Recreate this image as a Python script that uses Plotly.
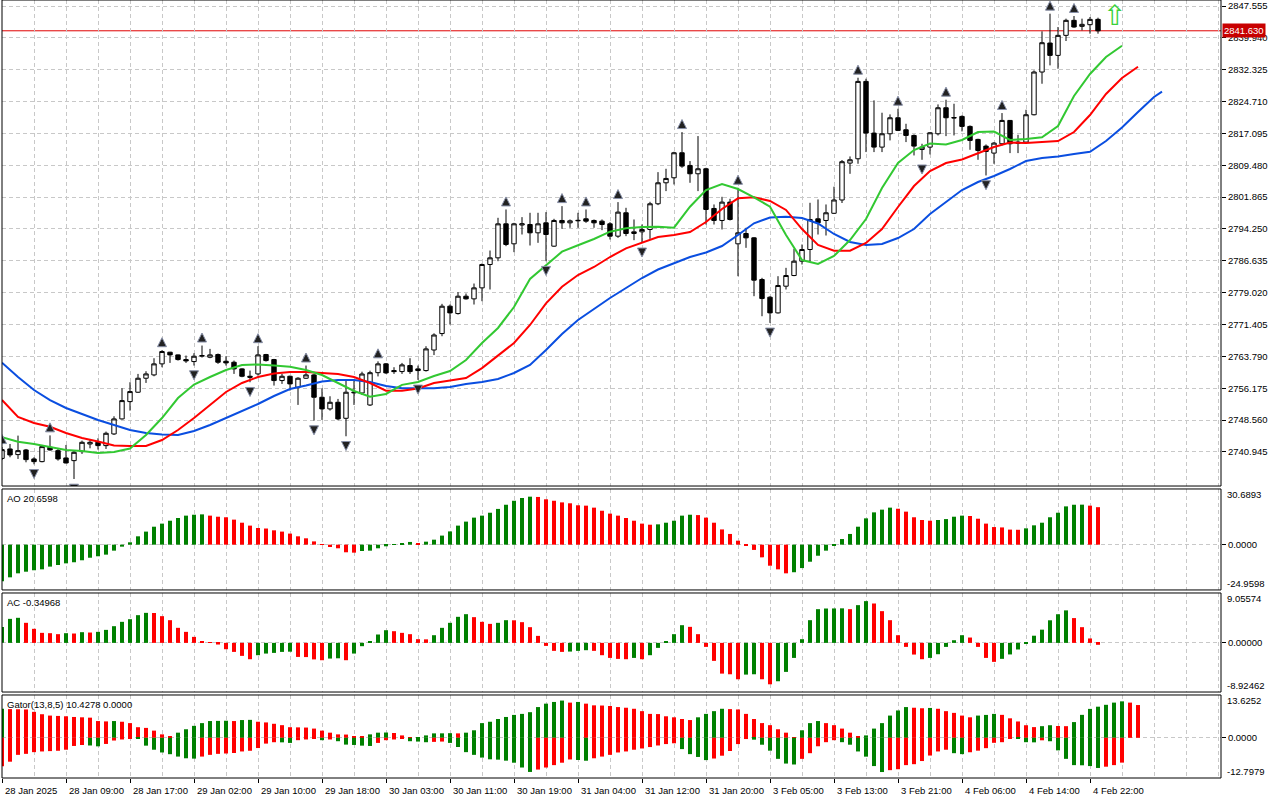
import plotly.graph_objects as go

# time axis: label every 8th bar (H1 bars, 28 Jan 01:00 .. 4 Feb 23:00)
time_ticks = [0, 8, 16, 24, 32, 40, 48, 56, 64, 72, 80, 88, 96, 104, 112, 120, 128, 136]
time_labels = ["28 Jan 2025", "28 Jan 09:00", "28 Jan 17:00", "29 Jan 02:00", "29 Jan 10:00",
               "29 Jan 18:00", "30 Jan 03:00", "30 Jan 11:00", "30 Jan 19:00", "31 Jan 04:00",
               "31 Jan 12:00", "31 Jan 20:00", "3 Feb 05:00", "3 Feb 13:00", "3 Feb 21:00",
               "4 Feb 06:00", "4 Feb 14:00", "4 Feb 22:00"]

price_ticks = [2740.945, 2748.560, 2756.175, 2763.790, 2771.405, 2779.020, 2786.635, 2794.250,
               2801.865, 2809.480, 2817.095, 2824.710, 2832.325, 2839.940, 2847.555]

opens = [
    2739.40, 2741.66, 2740.31, 2741.42, 2739.27, 2738.63, 2742.06, 2741.26, 2739.51, 2738.87,
    2741.02, 2742.85, 2743.25, 2742.46, 2745.25, 2748.84, 2752.98, 2755.22, 2758.57, 2759.36,
    2762.00, 2764.79, 2764.15, 2763.03, 2762.55, 2763.83, 2763.59, 2764.23, 2762.63, 2762.39,
    2760.80, 2759.04, 2759.60, 2764.23, 2763.03, 2758.01, 2759.04, 2756.41, 2758.57, 2759.36,
    2754.02, 2751.23, 2752.82, 2748.99, 2755.06, 2755.04, 2752.17, 2759.90, 2762.00, 2760.40,
    2760.16, 2761.60, 2760.80, 2760.40, 2765.32, 2769.25, 2775.79, 2774.03, 2778.18, 2777.54,
    2780.17, 2785.76, 2787.35, 2795.48, 2790.70, 2795.20, 2795.32, 2793.33, 2795.72, 2790.14,
    2796.28, 2795.72, 2796.20, 2796.68, 2796.28, 2796.12, 2795.48, 2792.53, 2798.12, 2793.17,
    2793.57, 2794.13, 2800.27, 2805.29, 2806.49, 2812.47, 2809.44, 2807.45, 2808.64, 2799.15,
    2796.28, 2800.67, 2790.70, 2793.17, 2792.13, 2782.17, 2777.94, 2774.19, 2780.57, 2783.12,
    2786.55, 2789.34, 2796.68, 2796.28, 2798.00, 2801.18, 2810.00, 2811.03, 2829.53, 2817.17,
    2813.82, 2817.01, 2820.84, 2817.97, 2816.61, 2813.26, 2813.82, 2817.01, 2823.23, 2820.90,
    2821.16, 2818.77, 2815.66, 2814.06, 2812.39, 2814.62, 2820.20, 2815.02, 2815.02, 2821.56,
    2831.77, 2838.70, 2835.75, 2840.54, 2844.13, 2842.69, 2843.09, 2844.36]
highs = [
    2742.10, 2742.85, 2744.85, 2741.66, 2739.67, 2742.62, 2744.90, 2741.66, 2742.62, 2741.26,
    2743.65, 2744.05, 2744.21, 2745.81, 2749.47, 2756.17, 2757.61, 2759.60, 2760.24, 2763.35,
    2765.26, 2764.87, 2764.23, 2763.99, 2764.55, 2766.38, 2765.58, 2764.47, 2763.83, 2762.79,
    2760.96, 2760.40, 2766.22, 2764.39, 2763.19, 2759.60, 2759.20, 2758.81, 2761.60, 2759.60,
    2756.17, 2754.26, 2753.62, 2758.01, 2758.01, 2760.13, 2760.37, 2762.60, 2762.20, 2761.20,
    2762.23, 2763.35, 2761.60, 2766.22, 2769.31, 2776.35, 2776.19, 2779.14, 2778.82, 2781.21,
    2786.00, 2789.10, 2796.92, 2798.91, 2795.72, 2797.08, 2798.12, 2798.12, 2798.28, 2796.68,
    2799.71, 2796.52, 2798.12, 2798.91, 2796.52, 2796.52, 2795.88, 2800.67, 2799.31, 2796.52,
    2795.32, 2800.75, 2807.84, 2808.64, 2812.71, 2817.41, 2810.48, 2816.46, 2808.88, 2800.11,
    2801.94, 2801.47, 2804.09, 2794.53, 2792.29, 2782.57, 2778.18, 2782.96, 2784.96, 2789.50,
    2790.54, 2800.51, 2801.31, 2800.11, 2804.36, 2810.74, 2811.59, 2830.41, 2830.17, 2824.99,
    2822.04, 2821.64, 2822.99, 2819.40, 2816.85, 2814.62, 2817.41, 2824.03, 2825.15, 2824.19,
    2821.40, 2819.00, 2815.82, 2814.46, 2815.02, 2821.96, 2820.30, 2816.77, 2822.75, 2832.16,
    2841.49, 2845.72, 2842.53, 2844.53, 2845.16, 2844.53, 2844.92, 2844.76]
lows = [
    2739.00, 2739.67, 2739.27, 2738.47, 2737.99, 2738.47, 2741.26, 2738.87, 2738.23, 2734.48,
    2740.47, 2741.82, 2741.50, 2741.66, 2745.01, 2748.68, 2750.83, 2755.06, 2757.45, 2759.04,
    2761.20, 2762.23, 2762.79, 2762.23, 2761.60, 2763.51, 2763.35, 2762.00, 2761.60, 2759.60,
    2758.81, 2757.61, 2759.20, 2762.55, 2756.81, 2757.21, 2755.62, 2752.19, 2758.41, 2748.44,
    2748.60, 2750.83, 2748.52, 2744.69, 2752.19, 2754.56, 2751.93, 2759.00, 2759.60, 2759.60,
    2759.60, 2759.60, 2758.17, 2760.16, 2764.11, 2768.61, 2771.40, 2773.79, 2777.38, 2776.19,
    2776.98, 2779.78, 2786.55, 2790.14, 2788.71, 2792.93, 2790.30, 2790.94, 2786.55, 2789.98,
    2794.29, 2794.53, 2794.53, 2795.72, 2794.53, 2793.97, 2791.73, 2792.13, 2792.53, 2791.57,
    2790.94, 2791.89, 2799.95, 2803.30, 2804.89, 2808.88, 2805.29, 2803.30, 2795.32, 2795.32,
    2794.13, 2796.28, 2782.96, 2789.74, 2778.18, 2773.39, 2771.80, 2774.03, 2779.78, 2782.96,
    2785.76, 2786.55, 2792.93, 2792.69, 2797.83, 2800.46, 2807.44, 2809.84, 2812.63, 2812.63,
    2812.63, 2815.42, 2817.65, 2815.02, 2811.83, 2810.79, 2812.07, 2816.61, 2816.45, 2816.61,
    2817.57, 2813.18, 2810.79, 2807.04, 2809.84, 2814.22, 2812.39, 2812.39, 2814.62, 2821.40,
    2828.97, 2833.36, 2832.56, 2839.18, 2842.37, 2841.73, 2840.94, 2840.94]
closes = [
    2741.50, 2740.23, 2741.26, 2739.11, 2738.63, 2742.22, 2741.42, 2739.27, 2738.31, 2740.86,
    2743.25, 2743.25, 2742.46, 2745.41, 2748.84, 2753.22, 2755.38, 2758.57, 2759.60, 2762.00,
    2764.95, 2764.15, 2763.03, 2762.71, 2763.83, 2763.99, 2764.15, 2762.39, 2762.23, 2760.80,
    2759.04, 2758.81, 2764.15, 2762.79, 2758.01, 2759.04, 2757.21, 2758.57, 2759.36, 2754.02,
    2751.23, 2752.82, 2748.84, 2755.22, 2755.22, 2759.58, 2759.89, 2762.00, 2759.84, 2760.16,
    2761.76, 2760.16, 2760.40, 2765.58, 2768.90, 2775.79, 2774.19, 2778.18, 2777.54, 2780.17,
    2785.76, 2787.35, 2795.48, 2790.54, 2795.48, 2795.50, 2793.33, 2795.48, 2792.93, 2796.28,
    2795.72, 2796.20, 2796.30, 2796.12, 2795.72, 2795.32, 2792.53, 2798.28, 2793.17, 2793.57,
    2794.13, 2800.27, 2805.29, 2806.33, 2812.47, 2809.28, 2807.45, 2808.64, 2798.91, 2796.28,
    2800.67, 2796.52, 2793.33, 2792.13, 2782.01, 2777.62, 2774.19, 2780.73, 2783.12, 2786.55,
    2789.34, 2796.52, 2795.72, 2798.12, 2801.18, 2810.33, 2810.80, 2829.53, 2817.17, 2813.82,
    2817.01, 2820.84, 2817.81, 2816.61, 2814.06, 2813.82, 2817.25, 2823.23, 2820.84, 2820.80,
    2818.77, 2815.42, 2813.02, 2812.78, 2814.78, 2820.20, 2814.62, 2814.78, 2821.56, 2831.77,
    2838.78, 2835.75, 2840.54, 2844.13, 2842.53, 2843.17, 2844.36, 2841.63]
last_price = 2841.63

fractal_up = [0, 6, 20, 25, 32, 38, 47, 63, 70, 73, 77, 85, 92, 107, 112, 118, 125, 131, 134]
fractal_down = [4, 9, 24, 31, 39, 43, 52, 68, 80, 96, 115, 123]

# alligator, read every second bar (lines run past the last bar by their shift)
jaw_bars = list(range(0, 145, 2)) + [145]
jaw = [
    2762.28, 2758.86, 2755.75, 2753.36, 2751.45, 2750.02, 2748.58, 2747.39, 2746.19, 2745.48,
    2745.12, 2745.00, 2745.95, 2747.39, 2749.06, 2750.74, 2752.41, 2754.32, 2755.99, 2756.83,
    2757.79, 2758.14, 2758.14, 2757.67, 2756.71, 2756.16, 2756.16, 2756.16, 2756.47, 2757.19,
    2757.67, 2758.38, 2759.82, 2761.73, 2765.32, 2769.14, 2772.49, 2775.12, 2777.75, 2780.14,
    2782.53, 2784.56, 2786.04, 2787.55, 2788.63, 2790.18, 2792.81, 2795.61, 2797.00, 2797.19,
    2796.87, 2795.56, 2793.05, 2791.14, 2790.42, 2790.66, 2792.09, 2794.24, 2797.83, 2800.70,
    2803.57, 2805.48, 2806.91, 2808.59, 2810.50, 2811.22, 2811.58, 2812.17, 2812.72, 2815.28,
    2818.51, 2822.22, 2825.80, 2827.07]
teeth_bars = list(range(0, 143, 2))
teeth = [
    2753.36, 2749.30, 2747.86, 2746.98, 2745.48, 2744.28, 2743.44, 2742.49, 2742.37, 2742.37,
    2743.80, 2746.19, 2749.06, 2752.17, 2755.28, 2757.43, 2758.86, 2759.70, 2760.06, 2760.06,
    2759.82, 2759.58, 2758.86, 2757.43, 2755.59, 2755.59, 2756.11, 2757.43, 2758.02, 2758.62,
    2761.00, 2764.00, 2766.99, 2771.30, 2776.48, 2780.45, 2783.25, 2785.16, 2787.55, 2789.63,
    2790.90, 2792.33, 2792.81, 2793.53, 2795.92, 2799.03, 2801.58, 2801.82, 2800.94, 2798.79,
    2794.24, 2790.42, 2789.06, 2789.06, 2790.90, 2794.24, 2799.50, 2804.52, 2808.11, 2810.02,
    2810.86, 2812.41, 2813.85, 2814.92, 2814.80, 2815.04, 2815.28, 2817.43, 2821.50, 2826.52,
    2830.34, 2833.04]
lips_bars = list(range(0, 141, 2))
lips = [
    2744.45, 2743.39, 2742.85, 2742.20, 2741.41, 2741.17, 2740.69, 2740.93, 2741.77, 2745.00,
    2749.06, 2753.84, 2757.07, 2758.86, 2760.54, 2761.73, 2761.85, 2761.61, 2761.33, 2760.54,
    2759.34, 2757.43, 2755.52, 2754.16, 2754.80, 2756.99, 2757.67, 2759.10, 2760.30, 2762.93,
    2766.99, 2770.58, 2775.60, 2782.29, 2785.64, 2788.82, 2790.35, 2791.85, 2793.60, 2794.41,
    2794.72, 2794.79, 2794.55, 2799.57, 2803.57, 2805.00, 2803.81, 2801.82, 2799.57, 2792.81,
    2786.83, 2785.88, 2787.79, 2791.61, 2796.63, 2804.05, 2810.02, 2813.13, 2814.68, 2814.44,
    2815.52, 2817.43, 2817.55, 2815.52, 2815.76, 2816.17, 2818.87, 2826.04, 2831.30, 2835.36,
    2838.06]

signal_bar = 139
signal_price = 2845.4

ao = [
    -20.2, -18.0, -15.8, -14.9, -14.1, -13.6, -12.1, -11.2, -10.3, -9.7,
    -8.6, -7.2, -6.4, -5.5, -3.3, -1.1, 1.3, 4.6, 7.2, 9.9,
    11.6, 13.2, 14.7, 16.0, 16.5, 16.7, 16.0, 15.4, 15.1, 13.8,
    12.1, 10.5, 9.2, 8.9, 7.9, 7.2, 6.1, 4.6, 3.5, 1.8,
    0.2, -1.3, -2.0, -4.2, -4.4, -3.5, -3.3, -2.0, -0.9, 0.05,
    0.55, 1.5, 0.9, 1.65, 2.75, 5.0, 7.3, 10.5, 12.7, 14.9,
    16.0, 17.6, 19.7, 22.0, 24.2, 25.7, 26.45, 26.3, 25.0, 24.2,
    23.3, 22.8, 21.7, 21.5, 20.4, 18.7, 17.1, 16.0, 14.7, 13.2,
    11.6, 11.0, 11.2, 12.1, 13.2, 16.0, 16.5, 16.3, 14.9, 12.1,
    8.4, 5.9, 2.2, -0.2, -2.9, -7.0, -11.6, -13.6, -15.8, -15.2,
    -12.9, -9.4, -6.1, -3.3, -0.2, 3.1, 5.9, 9.9, 14.5, 17.8,
    19.3, 20.4, 19.8, 18.2, 15.1, 13.6, 13.2, 13.6, 14.1, 15.4,
    16.0, 15.8, 14.3, 11.6, 9.7, 9.5, 8.3, 8.2, 9.0, 10.65,
    12.1, 15.1, 17.6, 21.1, 22.0, 22.05, 21.5, 20.6598]
ao_range = [-24.9598, 30.6893]

ac = [
    2.9, 4.36, 4.55, 3.64, 2.55, 1.82, 1.76, 1.58, 1.76, 1.70,
    1.94, 1.88, 2.0, 2.36, 3.03, 3.82, 4.30, 5.03, 5.45, 5.42,
    4.85, 4.12, 2.73, 2.0, 1.09, 0.30, 0.15, -0.3, -1.15, -1.64,
    -2.36, -2.97, -2.24, -1.94, -1.82, -1.64, -1.60, -2.55, -2.58, -3.0,
    -3.15, -2.85, -2.80, -3.15, -1.94, -0.6, 0.18, 1.52, 2.30, 2.12,
    1.82, 1.58, 0.67, 0.64, 1.39, 2.73, 3.64, 4.73, 5.21, 4.67,
    3.82, 3.45, 3.64, 4.12, 4.10, 3.76, 2.85, 1.27, -0.55, -1.45,
    -1.64, -1.58, -1.45, -1.33, -1.45, -2.24, -2.73, -2.91, -2.97, -2.73,
    -2.97, -2.24, -0.91, 0.18, 1.58, 3.21, 2.91, 1.58, -0.73, -3.27,
    -5.58, -5.70, -6.61, -5.76, -5.70, -6.61, -7.52, -6.97, -5.27, -2.73,
    0.67, 4.12, 6.12, 6.24, 6.25, 6.27, 6.12, 6.85, 7.58, 7.15,
    5.76, 4.12, 1.39, -0.73, -2.12, -2.97, -2.73, -2.06, -0.73, 0.48,
    1.39, 0.97, -0.73, -2.73, -3.45, -2.9, -2.1, -1.2, -0.1, 1.3,
    2.4, 4.1, 5.2, 5.9, 4.5, 2.85, 0.8, -0.34968]
ac_range = [-8.92462, 9.05574]

gator_up = [
    9.24, 9.13, 9.08, 9.02, 8.26, 7.50, 7.07, 6.96, 6.85, 6.63,
    6.52, 6.41, 5.33, 5.22, 5.33, 5.11, 4.67, 3.37, 3.15, 2.28,
    1.09, 0.33, 1.63, 2.72, 3.80, 4.67, 5.33, 5.38, 5.43, 5.33,
    5.65, 5.71, 5.11, 4.89, 4.46, 4.02, 3.37, 3.32, 3.26, 2.93,
    2.28, 1.63, 1.09, 1.03, 0.43, 0.33, 1.09, 1.63, 1.68, 1.52,
    0.76, 0.12, 0.20, 0.76, 1.41, 1.42, 1.47, 1.41, 1.63, 2.39,
    4.67, 5.11, 5.98, 6.63, 7.28, 7.61, 8.15, 9.78, 10.87, 11.41,
    11.85, 11.20, 11.41, 10.87, 10.33, 10.27, 10.11, 9.78, 9.57, 9.24,
    8.48, 7.61, 7.55, 6.85, 6.52, 5.98, 5.65, 6.52, 7.61, 8.48,
    9.24, 9.13, 9.02, 7.61, 5.98, 4.67, 4.02, 2.72, 1.63, 0.22,
    2.39, 4.67, 5.33, 4.67, 4.02, 2.93, 1.63, 0.50, 0.76, 2.93,
    4.67, 7.07, 8.70, 9.78, 9.57, 9.40, 9.50, 9.24, 8.48, 7.93,
    7.07, 6.52, 7.07, 7.28, 7.61, 7.30, 6.20, 5.20, 4.00, 3.40,
    3.70, 4.00, 3.75, 3.70, 5.00, 7.30, 9.20, 9.90, 10.50, 11.20,
    11.60, 11.20, 10.4278]
gator_down = [
    -9.02, -7.61, -5.43, -5.11, -4.57, -4.35, -4.24, -4.13, -3.80, -2.60,
    -2.30, -2.45, -2.72, -1.96, -0.87, -0.54, -0.22, -0.33, -2.50, -3.80,
    -4.67, -5.22, -5.98, -6.52, -6.63, -5.98, -5.43, -5.11, -5.00, -4.85,
    -4.35, -4.13, -3.26, -1.85, -1.41, -1.45, -1.63, -0.76, -0.54, -0.22,
    -0.76, -0.54, -1.09, -2.17, -2.28, -2.50, -2.60, -1.63, -0.76, -0.54,
    -0.33, -1.09, -1.20, -1.41, -1.30, -1.20, -1.63, -2.93, -4.57, -5.43,
    -6.30, -6.85, -6.96, -7.28, -7.93, -9.46, -10.87, -10.11, -9.46, -8.70,
    -7.93, -6.90, -7.07, -7.30, -6.52, -5.98, -5.43, -4.67, -4.35, -3.80,
    -3.40, -2.95, -2.45, -2.00, -1.75, -3.60, -5.20, -6.10, -7.10, -6.60,
    -5.70, -4.20, -2.00, -0.40, -0.60, -2.20, -4.10, -6.70, -8.20, -8.50,
    -6.70, -4.90, -2.70, -1.40, -0.76, -1.40, -2.20, -4.35, -6.00, -9.00,
    -10.90, -10.30, -10.00, -8.70, -8.40, -7.40, -5.65, -4.35, -3.80, -4.90,
    -5.20, -4.60, -4.10, -3.30, -1.60, -1.40, -0.10, -0.30, -1.40, -1.45,
    -0.80, -1.10, -4.00, -6.70, -8.70, -8.75, -9.00, -9.60, -9.20, -8.70,
    -7.90]
gator_range = [-12.7979, 13.6252]

GREEN = "#008000"
RED = "#ff0000"
GRID = "#c8c8c8"
DASH = "4px,3px"
FONT = "Liberation Sans"
FSIZE = 9.5

# panel heights in paper units (plot area is 778 px tall)
main_dom = [0.3753, 1.0]
ao_dom = [0.2417, 0.3715]
ac_dom = [0.1105, 0.2378]
gator_dom = [0.0, 0.1067]


def trend_colors(values, first, key=lambda v: v):
    cols = [first]
    for prev, cur in zip(values, values[1:]):
        cols.append(GREEN if key(cur) > key(prev) else RED)
    return cols


bars = list(range(len(opens)))
fig = go.Figure()

fig.add_trace(go.Candlestick(
    x=bars, open=opens, high=highs, low=lows, close=closes,
    increasing=dict(line=dict(color="black", width=1), fillcolor="white"),
    decreasing=dict(line=dict(color="black", width=1), fillcolor="black"),
    whiskerwidth=0, hoverinfo="skip", yaxis="y"))

for xs, ys, col in [(jaw_bars, jaw, "#0a4ee0"), (teeth_bars, teeth, "#ff0000"),
                    (lips_bars, lips, "#32c832")]:
    fig.add_trace(go.Scatter(x=xs, y=ys, mode="lines", line=dict(color=col, width=2),
                             hoverinfo="skip", yaxis="y"))

fig.add_trace(go.Scatter(
    x=fractal_up, y=[highs[i] + 3.0 for i in fractal_up], mode="markers", yaxis="y",
    marker=dict(symbol="arrow-up", size=9, color="#222222", line=dict(color="#8890a8", width=1)),
    hoverinfo="skip"))
fig.add_trace(go.Scatter(
    x=fractal_down, y=[lows[i] - 3.4 for i in fractal_down], mode="markers", yaxis="y",
    marker=dict(symbol="arrow-down", size=9, color="#222222", line=dict(color="#8890a8", width=1)),
    hoverinfo="skip"))

fig.add_trace(go.Bar(x=bars, y=ao, marker=dict(color=trend_colors(ao, GREEN), line_width=0),
                     width=0.5, yaxis="y2", hoverinfo="skip"))
fig.add_trace(go.Bar(x=bars, y=ac, marker=dict(color=trend_colors(ac, GREEN), line_width=0),
                     width=0.5, yaxis="y3", hoverinfo="skip"))
fig.add_trace(go.Bar(x=list(range(len(gator_up))), y=gator_up,
                     marker=dict(color=trend_colors(gator_up, GREEN), line_width=0),
                     width=0.5, yaxis="y4", hoverinfo="skip"))
fig.add_trace(go.Bar(x=list(range(len(gator_down))), y=gator_down,
                     marker=dict(color=trend_colors(gator_down, RED, key=abs), line_width=0),
                     width=0.5, yaxis="y4", hoverinfo="skip"))

sub_axis = dict(side="right", showgrid=True, gridcolor=GRID, griddash=DASH, zeroline=False,
                ticks="outside", ticklen=4, tickcolor="black", fixedrange=True)

fig.update_layout(
    width=1280, height=800,
    margin=dict(l=2, r=59, t=0, b=22),
    paper_bgcolor="white", plot_bgcolor="white",
    showlegend=False, barmode="overlay", boxgap=0.45, boxgroupgap=0,
    font=dict(family=FONT, size=FSIZE, color="black"),
    xaxis=dict(range=[0, 152.375], anchor="y4", tickmode="array", tickvals=time_ticks,
               ticks="outside", ticklen=4, tickcolor="black", showticklabels=False,
               showgrid=True, gridcolor=GRID, griddash=DASH, zeroline=False,
               minor=dict(tickmode="linear", tick0=0, dtick=4, showgrid=True,
                          gridcolor=GRID, griddash=DASH),
               rangeslider=dict(visible=False), fixedrange=True),
    yaxis=dict(domain=main_dom, range=[2732.80, 2848.99], tickvals=price_ticks,
               ticktext=[f"{p:.3f}" for p in price_ticks], **sub_axis),
    yaxis2=dict(domain=ao_dom, range=ao_range, tickvals=[0], ticktext=["0.0000"], **sub_axis),
    yaxis3=dict(domain=ac_dom, range=ac_range, tickvals=[0], ticktext=["0.00000"], **sub_axis),
    yaxis4=dict(domain=gator_dom, range=gator_range, tickvals=[0], ticktext=["0.0000"], **sub_axis),
)

# panel frames
for dom in (main_dom, ao_dom, ac_dom, gator_dom):
    fig.add_shape(type="rect", xref="paper", yref="paper", x0=0, x1=1, y0=dom[0], y1=dom[1],
                  line=dict(color="black", width=1), layer="above")

# current price line and label (the label sits over the nearest grid price, as in the terminal)
fig.add_shape(type="line", xref="paper", yref="y", x0=0, x1=1, y0=last_price, y1=last_price,
              line=dict(color="#e00000", width=1), layer="below")
fig.add_annotation(x=1, xref="paper", xanchor="left", xshift=1, y=last_price, yref="y",
                   text=f"{last_price:.3f}", showarrow=False, bgcolor="#c80000",
                   font=dict(color="white", size=FSIZE, family=FONT), borderpad=1)

# buy signal arrow
fig.add_annotation(x=signal_bar, y=signal_price, xref="x", yref="y", text="\u21e7",
                   showarrow=False, font=dict(color="#3ad13a", size=28, family="DejaVu Sans"))

# time labels, left aligned to their tick like the terminal draws them
for t, lab in zip(time_ticks, time_labels):
    fig.add_annotation(x=t, xref="x", y=0, yref="paper", yanchor="top", xanchor="left",
                       xshift=1, yshift=-5, text=lab, showarrow=False)

# min / max labels of the indicator windows
for axis, rng, fmt in [("y2", ao_range, "{:.4f}"), ("y3", ac_range, "{:.5f}"),
                       ("y4", gator_range, "{:.4f}")]:
    fig.add_annotation(x=1, xref="paper", xanchor="left", xshift=4, y=rng[1], yref=axis,
                       yanchor="top", yshift=2, text=fmt.format(rng[1]), showarrow=False)
    fig.add_annotation(x=1, xref="paper", xanchor="left", xshift=4, y=rng[0], yref=axis,
                       yanchor="bottom", yshift=-1, text=fmt.format(rng[0]), showarrow=False)

# indicator window captions
captions = [(ao_dom, f"AO {ao[-1]:.4f}"), (ac_dom, f"AC {ac[-1]:.5f}"),
            (gator_dom, f"Gator(13,8,5) {gator_up[-1]:.4f} {0:.4f}")]
for dom, text in captions:
    fig.add_annotation(x=0, xref="paper", xanchor="left", xshift=3, y=dom[1], yref="paper",
                       yanchor="top", yshift=-2, text=text, showarrow=False)

fig.write_html("out.html", config={"displayModeBar": False},
               post_script="document.body.style.margin='0';")
